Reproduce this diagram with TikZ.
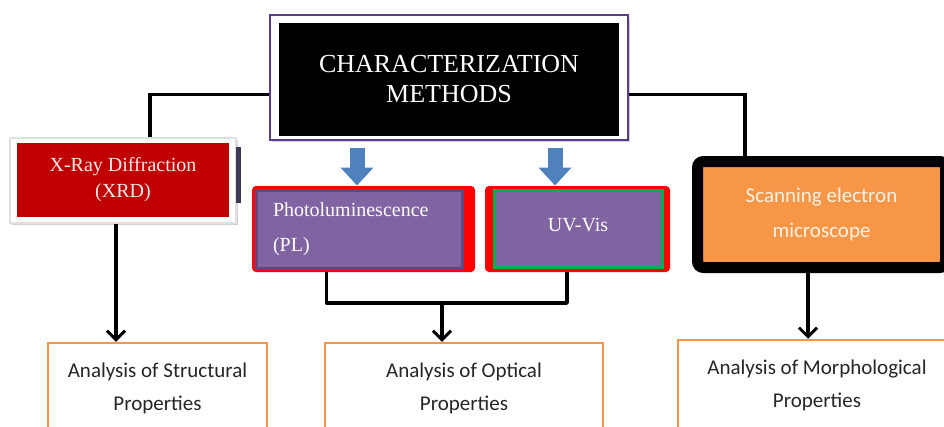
\documentclass[tikz,border=0pt]{standalone}
\usepackage{fontspec}
\setmainfont{Liberation Serif}
\setsansfont{Carlito}
\usetikzlibrary{shadows}
\usetikzlibrary{arrows.meta,calc}

\definecolor{xrdred}{HTML}{C00000}
\definecolor{backred}{HTML}{FF0000}
\definecolor{boxpurple}{HTML}{8064A2}
\definecolor{edgepurple}{HTML}{5F497A}
\definecolor{framepurple}{HTML}{5B3C88}
\definecolor{uvgreen}{HTML}{00B050}
\definecolor{semorange}{HTML}{F79646}
\definecolor{arrblue}{HTML}{4F81BD}
\definecolor{slivergray}{HTML}{3C3A55}

\begin{document}
\begin{tikzpicture}[x=1pt, y=-1pt,
	frame/.style={draw=framepurple, line width=1.2pt, fill=white, inner sep=0pt,
		drop shadow={shadow xshift=2pt, shadow yshift=-2pt, opacity=0.35}},
	blackbox/.style={fill=black, text=white, inner sep=0pt, align=center,
		font=\fontsize{26}{30}\selectfont},
	xrdbox/.style={fill=xrdred, text=red!8, inner sep=0pt, align=center,
		font=\fontsize{20}{26}\selectfont},
	redback/.style={fill=backred, rounded corners=4pt, inner sep=0pt},
	methbox/.style={fill=boxpurple, text=white, line width=3pt, inner sep=0pt,
		font=\fontsize{20}{35}\selectfont},
	sembox/.style={draw=black, line width=11pt, rounded corners=6pt, fill=semorange,
		text=orange!10, inner sep=0pt, align=center, font=\sffamily\fontsize{21}{35}\selectfont},
	result/.style={draw=semorange, line width=2.5pt, fill=white, text=black!85, inner sep=0pt,
		align=center, font=\sffamily\fontsize{21}{33}\selectfont},
	link/.style={draw=black, line width=3.5pt},
	arrow/.style={link, -{Straight Barb[length=9pt, width=18pt, line width=3pt]}},
	bluearr/.style={draw=arrblue, line width=15pt, -{Triangle[length=18pt, width=32pt]}}]
	\useasboundingbox (0,0) rectangle (944,426);
	\clip (0,0) rectangle (944,426);

	% top
	\node[frame, minimum width=358pt, minimum height=125pt] (topframe) at (449,77.5) {};
	\node[blackbox, minimum width=340pt, minimum height=113pt] (top) at (449,79.5) {CHARACTERIZATION\\METHODS};

	% methods
	\node[frame, draw=black!12, minimum width=226pt, minimum height=85pt] (xrdframe) at (123,180.5) {};
	\fill[slivergray] (236,147) rectangle (241,203);
	\node[xrdbox, minimum width=212pt, minimum height=74pt] (xrd) at (123,180) {X-Ray Diffraction\\(XRD)};

	\node[redback, minimum width=223pt, minimum height=86pt] (plred) at (363.5,229) {};
	\node[methbox, draw=edgepurple, minimum width=206pt, minimum height=78pt, align=left,
		text width=172pt] (pl) at (359,229) {Photoluminescence\\(PL)};

	\node[redback, minimum width=185pt, minimum height=86pt] (uvred) at (577.5,229) {};
	\node[methbox, draw=uvgreen, minimum width=168pt, minimum height=77pt, align=center]
		(uv) at (578,228.5) {\raisebox{8pt}{UV-Vis}};

	\node[sembox, minimum width=248pt, minimum height=106pt] (sem) at (821.5,214.5) {Scanning electron\\microscope};

	% results
	\node[result, minimum width=219pt, minimum height=90pt] (struct) at (157.5,388) {Analysis of Structural\\Properties};
	\node[result, minimum width=278pt, minimum height=90pt] (optical) at (464,388) {Analysis of Optical\\Properties};
	\node[result, minimum width=278pt, minimum height=91pt] (morph) at (817,385.5) {Analysis of Morphological\\Properties};

	% connectors
	\draw[link] ([yshift=-17pt]topframe.west) -| ([xshift=27pt]xrdframe.north);
	\draw[link] ([yshift=-17pt]topframe.east) -| ([xshift=-76.5pt]sem.north);
	\draw[bluearr] ([xshift=-2pt, yshift=-7pt]topframe.south -| pl.north) -- ([xshift=-2pt, yshift=3pt]pl.north);
	\draw[bluearr] ([xshift=-23pt, yshift=-7pt]topframe.south -| uv.north) -- ([xshift=-23pt, yshift=3pt]uv.north);

	\draw[arrow] ([xshift=-7pt]xrdframe.south) -- ([xshift=-7pt]xrdframe.south |- struct.north);
	\coordinate (optjoin) at (442,303);
	\draw[link, line join=round] ([xshift=-37pt]plred.south) |- (optjoin) -| ([xshift=-10.5pt]uvred.south);
	\draw[arrow] (optjoin) -- (optjoin |- optical.north);
	\draw[arrow] ([xshift=-13.5pt]sem.south) -- ([xshift=-13.5pt]sem.south |- morph.north);

\end{tikzpicture}
\end{document}
